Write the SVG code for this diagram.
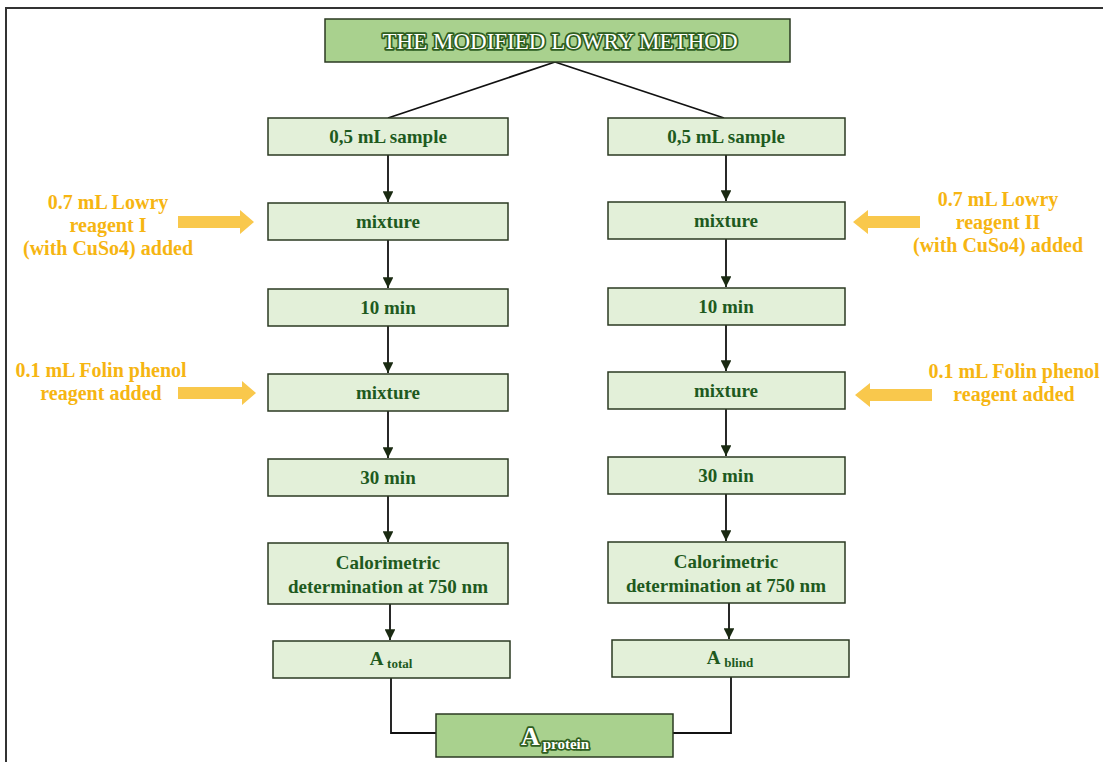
<svg xmlns="http://www.w3.org/2000/svg" width="1103" height="762" viewBox="0 0 1103 762">
<defs>
<style>
.box{fill:#e3f0d9;stroke:#2b3a22;stroke-width:1.5}
.hbox{fill:#a9d18e;stroke:#2b3a22;stroke-width:1.5}
.t{font-family:"Liberation Serif",serif;font-weight:bold;font-size:19px;fill:#1e5a1e;text-anchor:middle}
.sub{font-size:13px}
.h{font-family:"Liberation Serif",serif;font-size:20px;fill:#ffffff;stroke:#2f5f1f;stroke-width:3.5;paint-order:stroke;stroke-linejoin:round;text-anchor:middle}
.o{font-family:"Liberation Serif",serif;font-weight:bold;font-size:20px;fill:#f6b512;text-anchor:middle}
.c{fill:none;stroke:#111;stroke-width:1.8}
.oa{fill:#f9c84c}
</style>
<marker id="ah" viewBox="0 0 10 10" refX="10" refY="5" markerWidth="6" markerHeight="6" markerUnits="strokeWidth" orient="auto">
<path d="M0,0 L10,5 L0,10 Z" fill="#1a2a12"/>
</marker>
</defs>
<rect width="1103" height="762" fill="#ffffff"/>
<path d="M6,762 V8 H1103" fill="none" stroke="#333" stroke-width="2"/>

<g id="connectors">
<path class="c" d="M555,62 L388,118"/>
<path class="c" d="M555,62 L724,118"/>
<path class="c" d="M388,155 V202" marker-end="url(#ah)"/>
<path class="c" d="M388,240 V288" marker-end="url(#ah)"/>
<path class="c" d="M388,326 V373" marker-end="url(#ah)"/>
<path class="c" d="M388,411 V458" marker-end="url(#ah)"/>
<path class="c" d="M388,496 V542" marker-end="url(#ah)"/>
<path class="c" d="M390,604 V640" marker-end="url(#ah)"/>
<path class="c" d="M726,155 V201" marker-end="url(#ah)"/>
<path class="c" d="M726,239 V287" marker-end="url(#ah)"/>
<path class="c" d="M726,325 V371" marker-end="url(#ah)"/>
<path class="c" d="M726,409 V456" marker-end="url(#ah)"/>
<path class="c" d="M726,494 V541" marker-end="url(#ah)"/>
<path class="c" d="M729,603 V639" marker-end="url(#ah)"/>
<path class="c" d="M391,678 V733 H436"/>
<path class="c" d="M731,677 V733 H673"/>
<path class="oa" d="M178,216 H240 V210 L254,222 L240,234 V228 H178 Z"/>
<path class="oa" d="M178,387 H242 V381 L256,393 L242,405 V399 H178 Z"/>
<path class="oa" d="M920,216 H868 V210 L853,222 L868,234 V228 H920 Z"/>
<path class="oa" d="M932,389 H870 V383 L855,395 L870,407 V401 H932 Z"/>
</g>

<g id="title">
<rect class="hbox" x="325" y="19" width="465" height="43"/>
<text class="h" x="560" y="49" style="font-size:23px" textLength="355" lengthAdjust="spacingAndGlyphs">THE MODIFIED LOWRY METHOD</text>
</g>

<g id="l-sample"><rect class="box" x="268" y="118" width="240" height="37"/><text class="t" x="388" y="143">0,5 mL sample</text></g>
<g id="l-mix1"><rect class="box" x="268" y="203" width="240" height="37"/><text class="t" x="388" y="228">mixture</text></g>
<g id="l-10"><rect class="box" x="268" y="289" width="240" height="37"/><text class="t" x="388" y="314">10 min</text></g>
<g id="l-mix2"><rect class="box" x="268" y="374" width="240" height="37"/><text class="t" x="388" y="399">mixture</text></g>
<g id="l-30"><rect class="box" x="268" y="459" width="240" height="37"/><text class="t" x="388" y="484">30 min</text></g>
<g id="l-cal"><rect class="box" x="268" y="543" width="240" height="61"/><text class="t" x="388" y="569">Calorimetric</text><text class="t" x="388" y="593">determination at 750 nm</text></g>
<g id="l-atotal"><rect class="box" x="273" y="641" width="237" height="37"/><text class="t" x="391" y="665">A <tspan class="sub" dy="3">total</tspan></text></g>

<g id="r-sample"><rect class="box" x="608" y="118" width="237" height="37"/><text class="t" x="726" y="143">0,5 mL sample</text></g>
<g id="r-mix1"><rect class="box" x="608" y="202" width="237" height="37"/><text class="t" x="726" y="227">mixture</text></g>
<g id="r-10"><rect class="box" x="608" y="288" width="237" height="37"/><text class="t" x="726" y="313">10 min</text></g>
<g id="r-mix2"><rect class="box" x="608" y="372" width="237" height="37"/><text class="t" x="726" y="397">mixture</text></g>
<g id="r-30"><rect class="box" x="608" y="457" width="237" height="37"/><text class="t" x="726" y="482">30 min</text></g>
<g id="r-cal"><rect class="box" x="608" y="542" width="237" height="61"/><text class="t" x="726" y="568">Calorimetric</text><text class="t" x="726" y="592">determination at 750 nm</text></g>
<g id="r-ablind"><rect class="box" x="612" y="640" width="237" height="37"/><text class="t" x="730" y="664">A <tspan class="sub" dy="3">blind</tspan></text></g>

<g id="a-protein"><rect class="hbox" x="436" y="714" width="237" height="43"/><text class="h" x="555" y="745" style="font-weight:bold;font-size:26px">A<tspan style="font-size:15px" dx="3" dy="4">protein</tspan></text></g>

<g id="lbl-l1"><text class="o" x="108" y="209">0.7 mL Lowry</text><text class="o" x="108" y="232">reagent I</text><text class="o" x="108" y="255">(with CuSo4) added</text></g>
<g id="lbl-r1"><text class="o" x="998" y="206">0.7 mL Lowry</text><text class="o" x="998" y="229">reagent II</text><text class="o" x="998" y="252">(with CuSo4) added</text></g>
<g id="lbl-l2"><text class="o" x="101" y="377">0.1 mL Folin phenol</text><text class="o" x="101" y="400">reagent added</text></g>
<g id="lbl-r2"><text class="o" x="1014" y="378">0.1 mL Folin phenol</text><text class="o" x="1014" y="401">reagent added</text></g>
</svg>
